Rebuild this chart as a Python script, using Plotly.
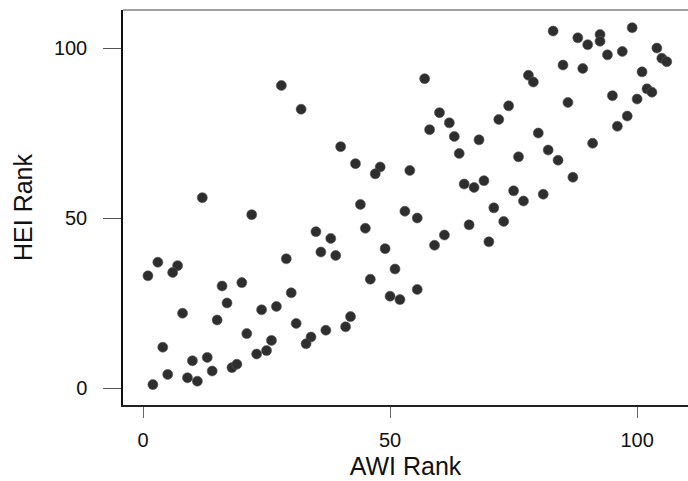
import plotly.graph_objects as go

# AWI rank vs HEI rank for each unit (ties carry averaged ranks)
awi_rank = [28, 32, 12, 57, 60, 62, 58, 63, 68, 64,
            40, 43, 48, 47, 54, 65, 67, 69, 44, 53,
            83, 99, 88, 92.5, 92.5, 90, 97, 94, 104, 105,
            106, 85, 89, 101, 78, 79, 102, 103, 100, 95,
            86, 74, 72, 98, 96, 80, 82, 91, 76, 84,
            87, 75, 81, 77, 71, 22, 35, 3, 1, 7,
            6, 29, 16, 20, 17, 30, 8, 15, 24, 27,
            31, 21, 26, 25, 23, 34, 33, 4, 10, 13,
            14, 5, 9, 11, 2, 18, 19, 55.5, 38, 36,
            39, 45, 49, 51, 46, 50, 52, 55.5, 59, 61,
            66, 70, 42, 41, 37, 73]
hei_rank = [89, 82, 56, 91, 81, 78, 76, 74, 73, 69,
            71, 66, 65, 63, 64, 60, 59, 61, 54, 52,
            105, 106, 103, 104, 102, 101, 99, 98, 100, 97,
            96, 95, 94, 93, 92, 90, 88, 87, 85, 86,
            84, 83, 79, 80, 77, 75, 70, 72, 68, 67,
            62, 58, 57, 55, 53, 51, 46, 37, 33, 36,
            34, 38, 30, 31, 25, 28, 22, 20, 23, 24,
            19, 16, 14, 11, 10, 15, 13, 12, 8, 9,
            5, 4, 3, 2, 1, 6, 7, 50, 44, 40,
            39, 47, 41, 35, 32, 27, 26, 29, 42, 45,
            48, 43, 21, 18, 17, 49]

x_ticks = [0, 50, 100]
y_ticks = [0, 50, 100]

font_family = "Liberation Sans, Arial, sans-serif"

fig = go.Figure(
    go.Scatter(
        x=awi_rank,
        y=hei_rank,
        mode="markers",
        marker=dict(size=10, color="#2e2e2e",
                    line=dict(width=0.6, color="#555555")),
        hoverinfo="x+y",
    )
)

fig.update_layout(
    width=688,
    height=481,
    margin=dict(l=123, r=0, t=10, b=76),
    paper_bgcolor="white",
    plot_bgcolor="white",
    showlegend=False,
    font=dict(family=font_family, color="#111111"),
)

fig.update_xaxes(
    range=[-4.05, 110.3],
    tickvals=x_ticks,
    ticks="outside",
    ticklen=11,
    tickcolor="#666666",
    tickwidth=1,
    tickfont=dict(size=20),
    ticklabelstandoff=5,
    showgrid=False,
    zeroline=False,
    showline=True,
    linecolor="#222222",
    linewidth=1.5,
    title=dict(text="AWI Rank", font=dict(size=25), standoff=8),
)

fig.update_yaxes(
    range=[-5, 111.2],
    tickvals=y_ticks,
    ticks="outside",
    ticklen=18,
    tickcolor="#555555",
    tickwidth=1,
    tickfont=dict(size=20),
    ticklabelstandoff=12,
    showgrid=False,
    zeroline=False,
    showline=True,
    linecolor="#111111",
    linewidth=1.5,
    title=dict(text="HEI Rank", font=dict(size=25), standoff=14),
)

# grey upper frame line
fig.add_shape(type="line", xref="paper", yref="paper",
              x0=0, x1=1, y0=1, y1=1,
              line=dict(color="#808080", width=1.5))

fig.write_html("out.html")
